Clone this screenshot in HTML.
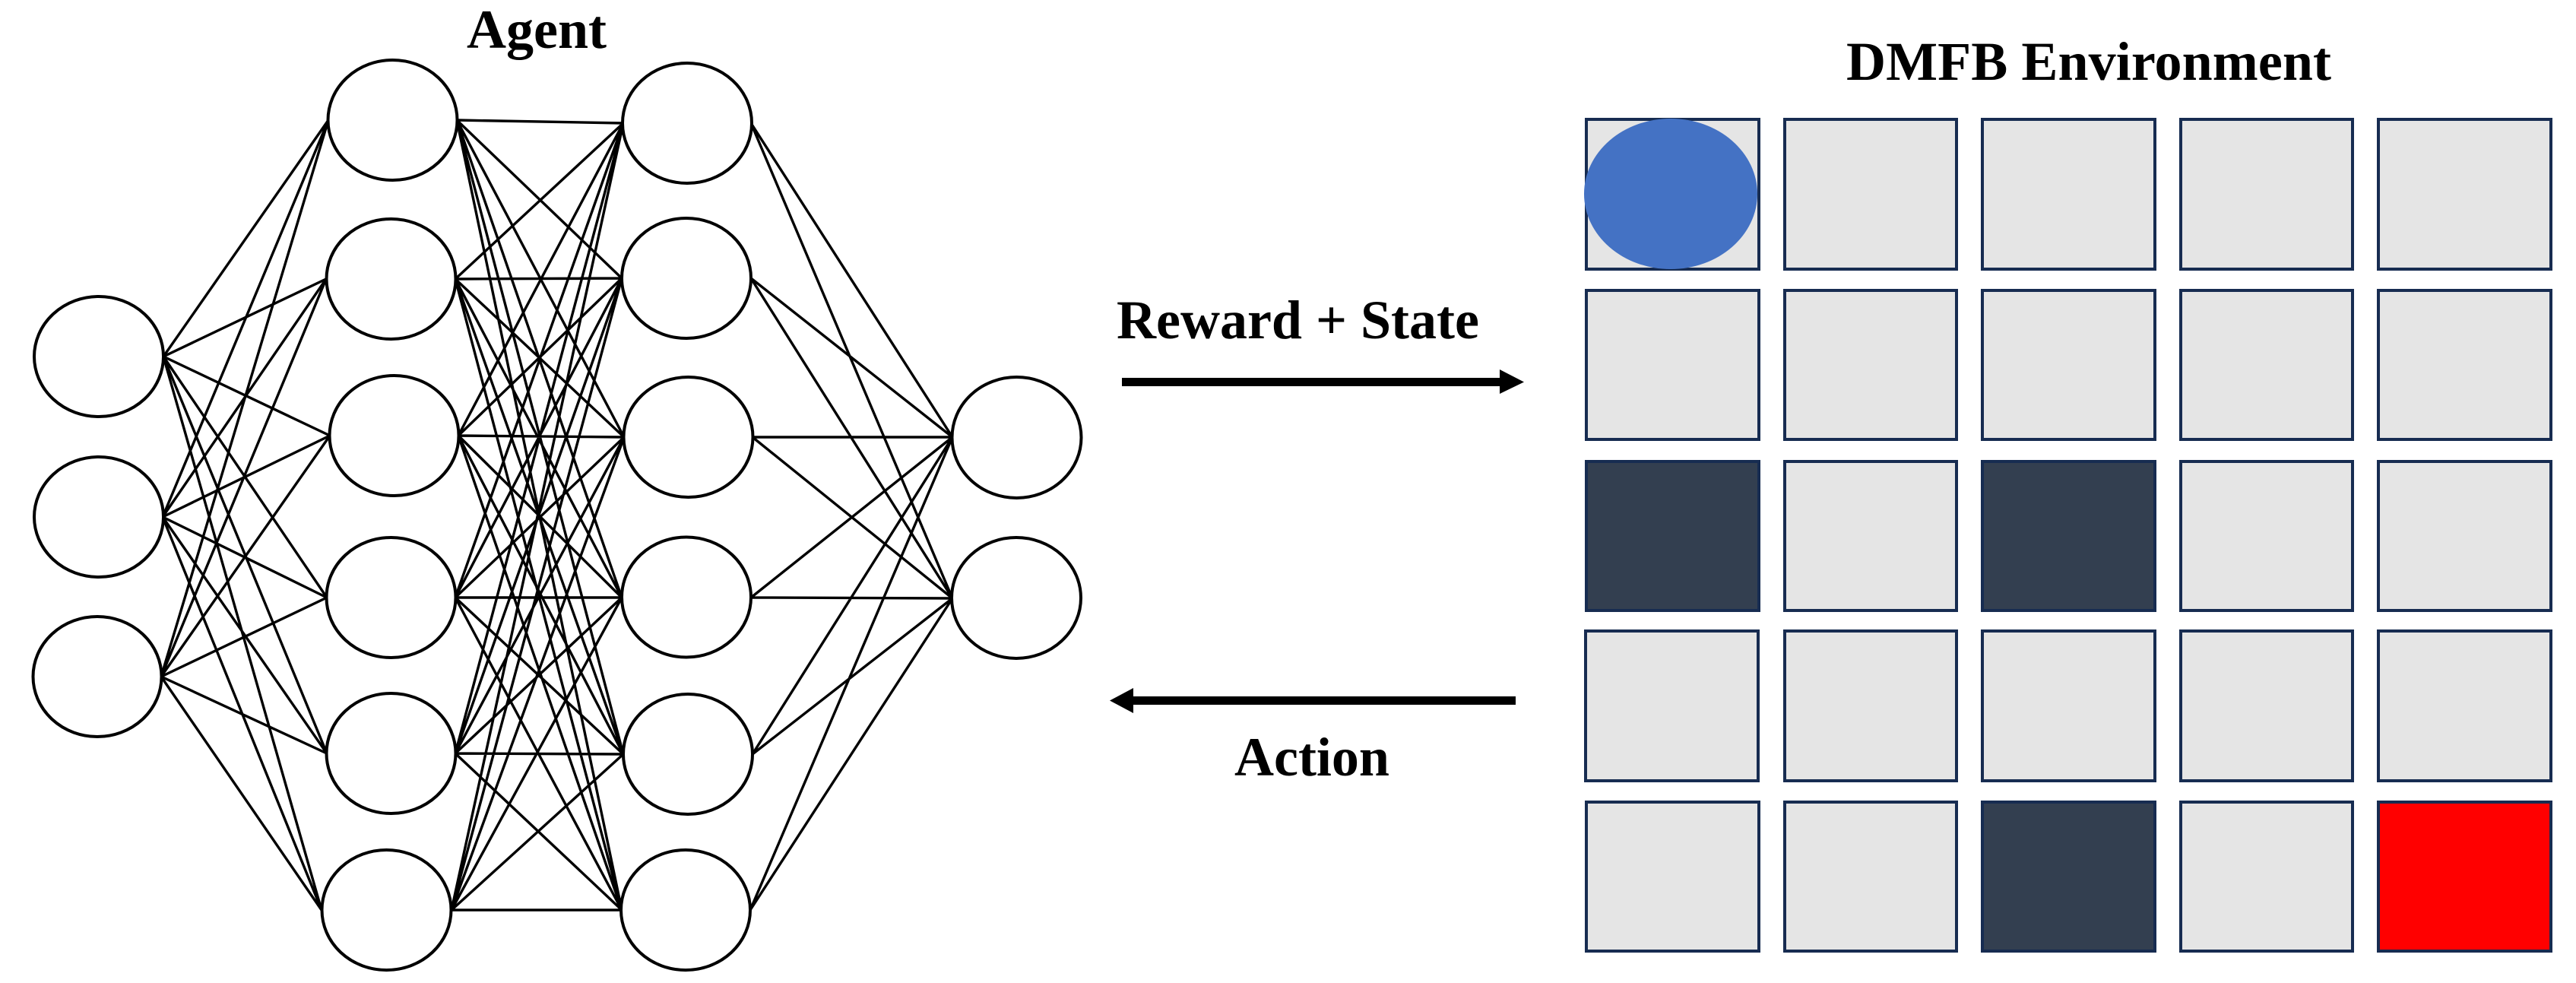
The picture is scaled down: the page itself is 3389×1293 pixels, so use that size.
<!DOCTYPE html>
<html>
<head>
<meta charset="utf-8">
<style>
html,body{margin:0;padding:0;background:#fff;width:3389px;height:1293px;overflow:hidden}
svg{display:block}
text{font-family:"Liberation Serif",serif;font-weight:bold;font-size:72px;fill:#000}
</style>
</head>
<body>
<svg width="3389" height="1293" viewBox="0 0 3389 1293" xmlns="http://www.w3.org/2000/svg">
<rect width="3389" height="1293" fill="#fff"/>
<path fill="none" stroke="#000" stroke-width="3.4" d="
M215 469L432 158M215 469L429 367M215 469L434 573M215 469L430 786M215 469L430 991M215 469L423 1197
M214 680L432 158M214 680L429 367M214 680L434 573M214 680L430 786M214 680L430 991M214 680L423 1197
M212 890L432 158M212 890L429 367M212 890L434 573M212 890L430 786M212 890L430 991M212 890L423 1197
M601 158L820 162M601 158L818 366M601 158L821 575M601 158L818 786M601 158L820 992M601 158L818 1197
M599 367L820 162M599 367L818 366M599 367L821 575M599 367L818 786M599 367L820 992M599 367L818 1197
M603 573L820 162M603 573L818 366M603 573L821 575M603 573L818 786M603 573L820 992M603 573L818 1197
M599 786L820 162M599 786L818 366M599 786L821 575M599 786L818 786M599 786L820 992M599 786L818 1197
M599 991L820 162M599 991L818 366M599 991L821 575M599 991L818 786M599 991L820 992M599 991L818 1197
M594 1197L820 162M594 1197L818 366M594 1197L821 575M594 1197L818 786M594 1197L820 992M594 1197L818 1197
M988 162L1253 575M988 162L1253 787
M988 366L1253 575M988 366L1253 787
M990 575L1253 575M990 575L1253 787
M988 786L1253 575M988 786L1253 787
M990 992L1253 575M990 992L1253 787
M987 1197L1253 575M987 1197L1253 787"/>
<g fill="#fff" stroke="#000" stroke-width="4">
<ellipse cx="130" cy="469" rx="85" ry="79"/>
<ellipse cx="130" cy="680" rx="85" ry="79"/>
<ellipse cx="128" cy="890" rx="84.500" ry="79"/>
<ellipse cx="516.500" cy="158" rx="85" ry="79"/>
<ellipse cx="514.500" cy="367" rx="85" ry="79"/>
<ellipse cx="518.500" cy="573" rx="85" ry="79"/>
<ellipse cx="514.500" cy="786" rx="85" ry="79"/>
<ellipse cx="514.500" cy="991" rx="85" ry="79"/>
<ellipse cx="508.500" cy="1197" rx="85" ry="79"/>
<ellipse cx="904" cy="162" rx="85" ry="79"/>
<ellipse cx="903" cy="366" rx="85" ry="79"/>
<ellipse cx="905.500" cy="575" rx="85" ry="79"/>
<ellipse cx="903" cy="785.500" rx="85" ry="79"/>
<ellipse cx="905" cy="992" rx="85" ry="79"/>
<ellipse cx="902" cy="1197" rx="85" ry="79"/>
<ellipse cx="1337.500" cy="575.500" rx="85" ry="79.500"/>
<ellipse cx="1337" cy="786.500" rx="85" ry="79.500"/>
</g>
<text x="614" y="63">Agent</text>
<text x="2429" y="105" textLength="638">DMFB Environment</text>
<text x="1469" y="445">Reward + State</text>
<text x="1624" y="1020">Action</text>
<rect x="1476" y="497" width="500" height="11" fill="#000"/>
<polygon points="1973,486 2005,502.500 1973,518" fill="#000"/>
<rect x="1488" y="916" width="506" height="11" fill="#000"/>
<polygon points="1491,905 1460,921.500 1491,938" fill="#000"/>
<g stroke="#172C51" stroke-width="4" fill="#E5E5E5">
<rect x="2087" y="157" width="227" height="197"/>
<rect x="2348" y="157" width="226" height="197"/>
<rect x="2608" y="157" width="227" height="197"/>
<rect x="2869" y="157" width="226" height="197"/>
<rect x="3129" y="157" width="227" height="197"/>
<rect x="2087" y="382" width="227" height="196"/>
<rect x="2348" y="382" width="226" height="196"/>
<rect x="2608" y="382" width="227" height="196"/>
<rect x="2869" y="382" width="226" height="196"/>
<rect x="3129" y="382" width="227" height="196"/>
<rect x="2087" y="607" width="227" height="196" fill="#333F50"/>
<rect x="2348" y="607" width="226" height="196"/>
<rect x="2608" y="607" width="227" height="196" fill="#333F50"/>
<rect x="2869" y="607" width="226" height="196"/>
<rect x="3129" y="607" width="227" height="196"/>
<rect x="2086" y="830" width="227" height="197"/>
<rect x="2348" y="830" width="226" height="197"/>
<rect x="2608" y="830" width="227" height="197"/>
<rect x="2869" y="830" width="226" height="197"/>
<rect x="3129" y="830" width="227" height="197"/>
<rect x="2087" y="1055" width="227" height="196"/>
<rect x="2348" y="1055" width="226" height="196"/>
<rect x="2608" y="1055" width="227" height="196" fill="#333F50"/>
<rect x="2869" y="1055" width="226" height="196"/>
<rect x="3129" y="1055" width="227" height="196" fill="#FF0000"/>
</g>
<ellipse cx="2198" cy="255" rx="114" ry="99" fill="#4472C4"/>
</svg>
</body>
</html>
